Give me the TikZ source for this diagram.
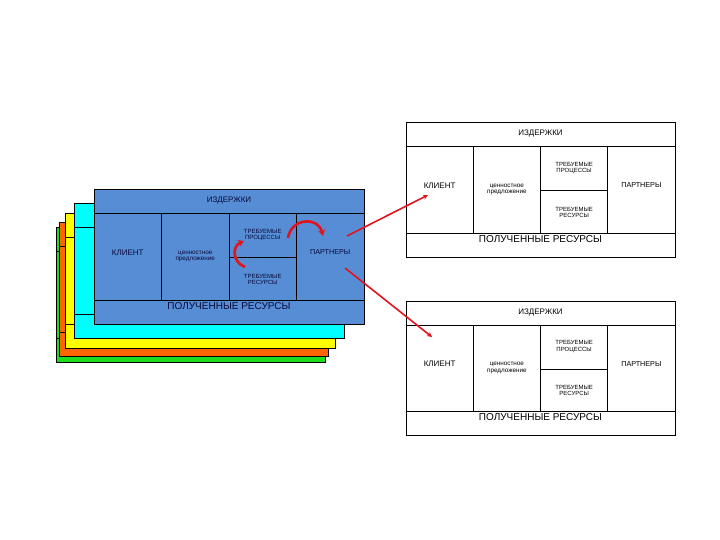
\documentclass[tikz,border=0pt]{standalone}
\usepackage{fontspec}
\setmainfont{Liberation Sans}
\usetikzlibrary{arrows.meta}
\definecolor{cardblue}{RGB}{86,141,212}
\definecolor{cardcyan}{RGB}{0,255,255}
\definecolor{cardyellow}{RGB}{255,255,0}
\definecolor{cardorange}{RGB}{255,102,0}
\definecolor{cardgreen}{RGB}{30,220,30}
\definecolor{navy}{RGB}{10,10,60}
\definecolor{arrowred}{RGB}{225,20,30}
\tikzset{
  cardbox/.style={draw=black, line width=0.6pt, anchor=north west, inner sep=0pt},
  cardline/.style={draw=black, line width=0.6pt},
  bigtxt/.style={font=\fontsize{10}{11}\selectfont, inner sep=0pt},
  midtxt/.style={font=\fontsize{8}{9}\selectfont, inner sep=0pt},
  parttxt/.style={font=\fontsize{7.2}{8}\selectfont, inner sep=0pt},
  smalltxt/.style={font=\fontsize{6}{6.4}\selectfont, align=center, inner sep=0pt},
  valtxt/.style={font=\fontsize{6.3}{6.4}\selectfont, align=center, inner sep=0pt},
  redline/.style={draw=arrowred, line width=1.6pt, -{Stealth[length=5pt,width=5pt]}},
  redcurve/.style={draw=arrowred, line width=2.6pt, -{Stealth[length=6pt,width=7pt]}}
}
% frame of one card: prefix, x, y, width, height, fill
\newcommand\cardframe[6]{%
\begin{scope}[shift={(#2,#3)}]
\node[cardbox, fill=#6, minimum width=#4pt, minimum height=#5pt] (#1) at (0,0) {};
\draw[cardline] (0,24) -- (#4,24);
\draw[cardline] (0,#5-24) -- (#4,#5-24);
\draw[cardline] (#4/4,24) -- (#4/4,#5-24);
\draw[cardline] (#4/2,24) -- (#4/2,#5-24);
\draw[cardline] (3*#4/4,24) -- (3*#4/4,#5-24);
\draw[cardline] (#4/2,#5/2+1) -- (3*#4/4,#5/2+1);
\end{scope}}
% texts of one card: prefix, x, y, width, height, text colour
\newcommand\cardtext[6]{%
\begin{scope}[shift={(#2,#3)}, every node/.append style={text=#6}]
\node[midtxt] (#1head) at (#4/2,12) {ИЗДЕРЖКИ};
\node[midtxt] (#1client) at (#4/8,#5/2-4) {КЛИЕНТ};
\node[valtxt] (#1value) at (3*#4/8,#5/2) {ценностное\\предложение};
\node[smalltxt] (#1proc) at (5*#4/8,{(24+#5/2)/2}) {ТРЕБУЕМЫЕ\\ПРОЦЕССЫ};
\node[smalltxt] (#1res) at (5*#4/8,{(3*#5/2-22)/2}) {ТРЕБУЕМЫЕ\\РЕСУРСЫ};
\node[parttxt] (#1part) at (7*#4/8,#5/2-4) {ПАРТНЕРЫ};
\node[bigtxt] (#1got) at (#4/2,#5-18) {ПОЛУЧЕННЫЕ РЕСУРСЫ};
\end{scope}}
\begin{document}
\begin{tikzpicture}[x=1pt,y=-1pt]
\useasboundingbox[fill=white] (0,0) rectangle (720,540);
% stacked cards
\cardframe{green}{56}{227}{269}{135}{cardgreen}
\cardframe{orange}{59}{222}{269}{134}{cardorange}
\cardframe{yellow}{65}{213}{270}{135}{cardyellow}
\cardframe{cyan}{74}{203}{270}{135}{cardcyan}
\cardframe{blue}{94}{189}{270}{135}{cardblue}
\cardtext{b}{94}{189}{270}{135}{navy}
% right cards
\cardframe{top}{406}{122}{269}{135}{white}
\cardtext{t}{406}{122}{269}{135}{black}
\cardframe{bot}{406}{301}{269}{134}{white}
\cardtext{u}{406}{301}{269}{134}{black}
% curved arrows
\coordinate (ca1) at (288,238);
\coordinate (ca2) at (323,236);
\draw[redcurve] (ca1) .. controls (291,218) and (318,216) .. (ca2);
\coordinate (cb1) at (245,267);
\coordinate (cb2) at (244,241);
\draw[redcurve] (cb1) .. controls (232,262) and (232,246) .. (cb2);
% red connectors
\coordinate (ra) at (347,236);
\coordinate (rb) at (428,195);
\draw[redline] (ra) -- (rb);
\coordinate (rc) at (345,268);
\coordinate (rd) at (432,337);
\draw[redline] (rc) -- (rd);
\end{tikzpicture}
\end{document}
